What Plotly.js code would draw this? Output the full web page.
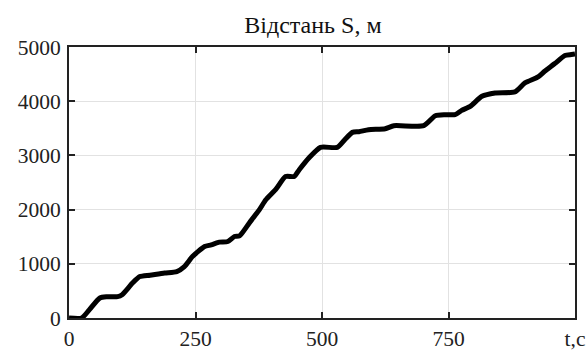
<!DOCTYPE html>
<html>
<head>
<meta charset="utf-8">
<script src="https://cdn.plot.ly/plotly-3.0.1.min.js"></script>
<style>html,body{margin:0;padding:0;background:#fff;}#chart{width:586px;height:350px;}</style>
</head>
<body>
<div id="chart"></div>
<script>
const titleText = "Відстань S, м";
const timeS = [0, 25, 40, 61, 75, 96, 105, 125, 140, 160, 189, 213, 228, 244, 268, 281, 297, 314, 327, 337, 356, 376, 389, 409, 428, 445, 455, 474, 497, 530, 545, 560, 573, 592, 625, 642, 701, 724, 743, 763, 776, 793, 816, 842, 881, 901, 927, 940, 960, 980, 993, 1000];
const distanceM = [0, 0, 150, 370, 392, 394, 430, 640, 764, 790, 831, 856, 948, 1133, 1318, 1349, 1399, 1411, 1503, 1515, 1750, 1996, 2181, 2378, 2611, 2611, 2735, 2951, 3148, 3148, 3290, 3425, 3437, 3474, 3493, 3548, 3548, 3733, 3752, 3752, 3831, 3905, 4090, 4152, 4171, 4337, 4448, 4552, 4694, 4842, 4860, 4870];
const xTickVals = [0, 250, 500, 750, 1000];
const xTickText = ["0", "250", "500", "750", "t,c"];
const yTickVals = [0, 1000, 2000, 3000, 4000, 5000];

const serif = "Liberation Serif";
const trace = {
  x: timeS, y: distanceM, type: "scatter", mode: "lines",
  line: {color: "#000", width: 5, shape: "spline", smoothing: 0.6},
  hoverinfo: "skip"
};
const axisCommon = {
  showline: true, linecolor: "#222", linewidth: 2, mirror: "ticks",
  ticks: "inside", ticklen: 6, tickwidth: 2, tickcolor: "#222",
  showgrid: true, gridcolor: "#e2e2e2", gridwidth: 1, zeroline: false,
  ticklabeloverflow: "allow",
  tickfont: {family: serif, size: 21.5, color: "#222"}
};
const layout = {
  width: 586, height: 350,
  margin: {l: 69, r: 11, t: 47, b: 32},
  paper_bgcolor: "#fff", plot_bgcolor: "#fff",
  showlegend: false,
  font: {family: serif},
  title: {text: titleText, font: {family: serif, size: 24, color: "#111"}, x: 0.534, xanchor: "center", y: 0.93, yanchor: "middle"},
  xaxis: Object.assign({}, axisCommon, {range: [0, 1000], tickmode: "array", tickvals: xTickVals, ticktext: xTickText}),
  yaxis: Object.assign({}, axisCommon, {range: [0, 5000], tickmode: "array", tickvals: yTickVals, ticklabelstandoff: 2})
};
Plotly.newPlot("chart", [trace], layout, {displayModeBar: false, staticPlot: true});
</script>
</body>
</html>
